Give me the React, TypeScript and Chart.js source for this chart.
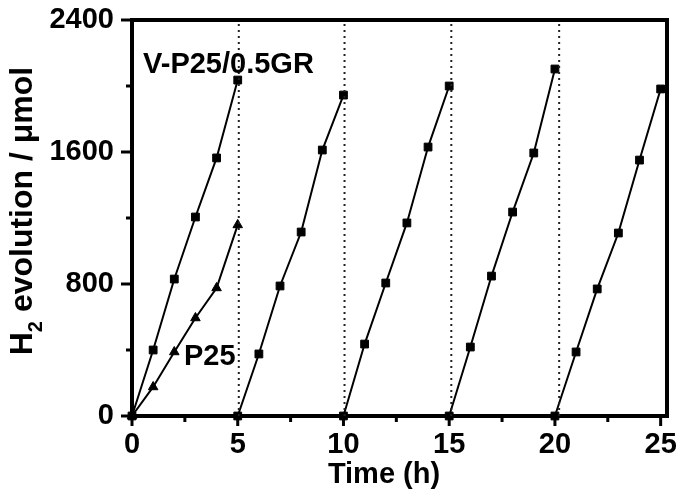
import React, { useEffect, useRef } from "react";
import { Chart, registerables } from "chart.js";

Chart.register(...registerables);

// ---- data ----
const cycle1Time = [0, 1, 2, 3, 4, 5];
const cycle1H2 = [0, 400, 830, 1206, 1564, 2036];
const cycle2Time = [5, 6, 7, 8, 9, 10];
const cycle2H2 = [0, 376, 788, 1115, 1612, 1945];
const cycle3Time = [10, 11, 12, 13, 14, 15];
const cycle3H2 = [0, 436, 806, 1170, 1630, 2000];
const cycle4Time = [15, 16, 17, 18, 19, 20];
const cycle4H2 = [0, 418, 848, 1236, 1594, 2103];
const cycle5Time = [20, 21, 22, 23, 24, 25];
const cycle5H2 = [0, 388, 770, 1109, 1551, 1982];

const p25Time = [0, 1, 2, 3, 4, 5];
const p25H2 = [0, 176, 388, 594, 776, 1158];

const separatorTimes = [5.05, 10.05, 15.1, 20.2];

const xMajorTicks = [0, 5, 10, 15, 20, 25];
const xMinorTicks = [2.5, 7.5, 12.5, 17.5, 22.5];
const yMajorTicks = [0, 800, 1600, 2400];
const yMinorTicks = [400, 1200, 2000];

const annotationTexts = ["V-P25/0.5GR", "P25"];
const annotationX = [0.52, 2.46];
const annotationY = [2079, 309];

const FONT = '"Liberation Sans", Arial, Helvetica, sans-serif';

const toPoints = (xs: number[], ys: number[]) => xs.map((x, i) => ({ x, y: ys[i] }));

export default function App() {
  const canvasRef = useRef<HTMLCanvasElement | null>(null);

  useEffect(() => {
    const canvas = canvasRef.current;
    if (!canvas) return;

    const framePlugin = {
      id: "framePlugin",
      beforeDatasetsDraw(chart: any) {
        const { ctx, chartArea } = chart;
        const { left, right, top, bottom } = chartArea;
        const xs = chart.scales.x;
        const ys = chart.scales.y;
        ctx.save();
        ctx.strokeStyle = "#000";
        ctx.lineWidth = 3;
        ctx.lineCap = "butt";
        xMajorTicks.forEach((v) => {
          const px = xs.getPixelForValue(v);
          ctx.beginPath();
          ctx.moveTo(px, bottom);
          ctx.lineTo(px, bottom + 10);
          ctx.stroke();
        });
        xMinorTicks.forEach((v) => {
          const px = xs.getPixelForValue(v);
          ctx.beginPath();
          ctx.moveTo(px, bottom);
          ctx.lineTo(px, bottom + 6);
          ctx.stroke();
        });
        yMajorTicks.forEach((v) => {
          const py = ys.getPixelForValue(v);
          ctx.beginPath();
          ctx.moveTo(left, py);
          ctx.lineTo(left - 11, py);
          ctx.stroke();
        });
        yMinorTicks.forEach((v) => {
          const py = ys.getPixelForValue(v);
          ctx.beginPath();
          ctx.moveTo(left, py);
          ctx.lineTo(left - 6, py);
          ctx.stroke();
        });
        ctx.lineWidth = 4;
        ctx.strokeRect(left, top, right - left, bottom - top);
        ctx.restore();
      },
      afterDraw(chart: any) {
        const { ctx } = chart;
        const xs = chart.scales.x;
        const ys = chart.scales.y;
        ctx.save();
        ctx.fillStyle = "#000";
        ctx.textBaseline = "alphabetic";

        ctx.font = `bold 29px ${FONT}`;
        ctx.textAlign = "center";
        ctx.fillText("Time (h)", 384, 483);

        ctx.textAlign = "left";
        annotationTexts.forEach((t, i) => {
          ctx.fillText(t, xs.getPixelForValue(annotationX[i]), ys.getPixelForValue(annotationY[i]));
        });

        ctx.translate(32, 211);
        ctx.rotate(-Math.PI / 2);
        const mainFont = `bold 32px ${FONT}`;
        const subFont = `bold 20px ${FONT}`;
        ctx.font = mainFont;
        const wH = ctx.measureText("H").width;
        const rest = " evolution / μmol";
        const wRest = ctx.measureText(rest).width;
        ctx.font = subFont;
        const w2 = ctx.measureText("2").width;
        const total = wH + w2 + wRest;
        let xx = -total / 2;
        ctx.font = mainFont;
        ctx.fillText("H", xx, 0);
        xx += wH;
        ctx.font = subFont;
        ctx.fillText("2", xx, 10);
        xx += w2;
        ctx.font = mainFont;
        ctx.fillText(rest, xx, 0);
        ctx.restore();
      },
    };

    const cycleSets = [
      [cycle1Time, cycle1H2],
      [cycle2Time, cycle2H2],
      [cycle3Time, cycle3H2],
      [cycle4Time, cycle4H2],
      [cycle5Time, cycle5H2],
    ].map(([t, v], i) => ({
      label: `V-P25/0.5GR cycle ${i + 1}`,
      data: toPoints(t as number[], v as number[]),
      borderColor: "#000",
      backgroundColor: "#000",
      borderWidth: 2,
      pointStyle: "rect",
      pointRadius: 5.5,
      pointBorderWidth: 1,
      tension: 0,
      clip: false as any,
    }));

    const separatorSets = separatorTimes.map((s) => ({
      label: `sep ${s}`,
      data: [
        { x: s, y: 0 },
        { x: s, y: 2400 },
      ],
      borderColor: "#222",
      borderWidth: 2,
      borderDash: [2, 4],
      pointRadius: 0,
      tension: 0,
    }));

    const p25Set = {
      label: "P25",
      data: toPoints(p25Time, p25H2),
      borderColor: "#000",
      backgroundColor: "#000",
      borderWidth: 2,
      pointStyle: "triangle",
      pointRadius: 5.5,
      pointBorderWidth: 1,
      tension: 0,
      clip: false as any,
    };

    const chart = new Chart(canvas, {
      type: "line",
      data: {
        datasets: [...separatorSets, p25Set, ...cycleSets] as any,
      },
      options: {
        animation: false,
        responsive: false,
        devicePixelRatio: 1,
        layout: { padding: { top: 20, right: 18, left: 0, bottom: 0 } },
        plugins: {
          legend: { display: false },
          tooltip: { enabled: false },
          title: { display: false },
        },
        scales: {
          x: {
            type: "linear",
            min: 0,
            max: 25.3,
            grid: { display: false, drawTicks: false },
            border: { display: false },
            ticks: {
              stepSize: 5,
              includeBounds: false,
              color: "#000",
              font: { family: FONT, size: 29, weight: "bold" },
              padding: 12,
              maxRotation: 0,
              callback: (v: any) => String(v),
            },
            afterFit: (scale: any) => {
              scale.height = 84;
              scale.paddingLeft = 0;
              scale.paddingRight = 0;
            },
          },
          y: {
            type: "linear",
            min: 0,
            max: 2400,
            grid: { display: false, drawTicks: false },
            border: { display: false },
            ticks: {
              stepSize: 800,
              color: "#000",
              font: { family: FONT, size: 29, weight: "bold" },
              padding: 18,
              callback: (v: any) => String(v),
            },
            afterFit: (scale: any) => {
              scale.width = 132;
              scale.paddingTop = 0;
              scale.paddingBottom = 0;
            },
          },
        },
      },
      plugins: [framePlugin],
    });

    return () => {
      chart.destroy();
    };
  }, []);

  return (
    <div style={{ position: "fixed", left: 0, top: 0, width: 685, height: 500, background: "#fff" }}>
      <canvas ref={canvasRef} width={685} height={500} style={{ display: "block" }} />
    </div>
  );
}
